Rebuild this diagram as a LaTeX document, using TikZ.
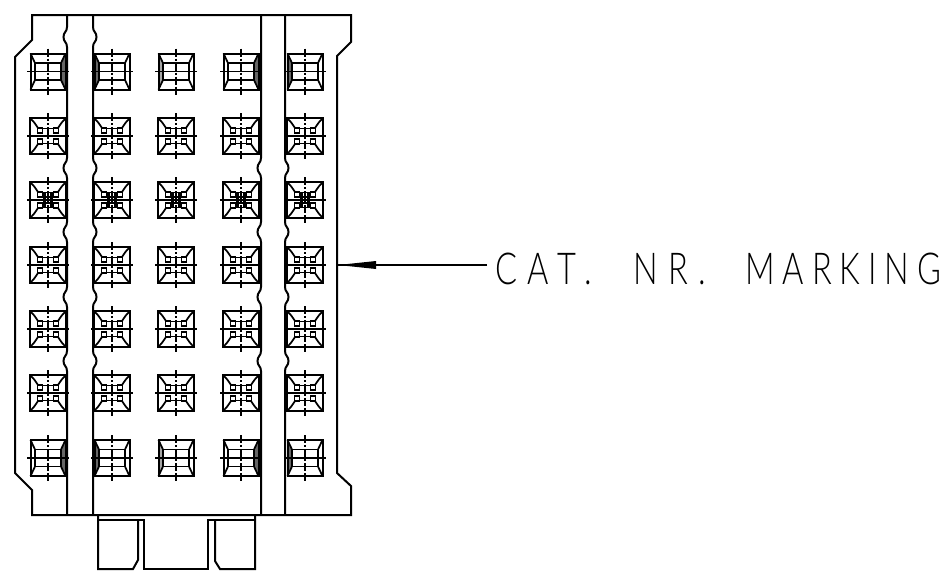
\documentclass[tikz,border=0pt]{standalone}
\usepackage{fontspec}
\newfontfamily\lab[UprightFont={* Light},LetterSpace=24,FakeStretch=0.74]{Lato}
\newfontfamily\labtight[UprightFont={* Light},LetterSpace=18,FakeStretch=0.74]{Lato}
\tikzset{
  body/.style={line width=1.5pt,line join=miter,black},
  pad line/.style={line width=1.3pt,black},
  centre/.style={line width=0.9pt,black,dash pattern=on 6pt off 1.5pt on 1.5pt off 1.5pt},
  lab text/.style={anchor=base west,inner sep=0pt,font=\lab\fontsize{33}{33}\selectfont,text=black},
  lab tight/.style={lab text,font=\labtight\fontsize{33}{33}\selectfont}
}
\newcommand{\crosslines}{%
  \draw[pad line] (-21,0) -- (21,0);
  \draw[centre] (0,-23) -- (0,23);
}
% #3, #4: colours of the left and right side strips
\newcommand{\padA}[4]{%
  \begin{scope}[shift={(#1,#2)}]
    \fill[#3] (-17.5,-18) -- (-13,-8) -- (-13,8) -- (-17.5,18) -- cycle;
    \fill[#4] (17.5,-18) -- (13,-8) -- (13,8) -- (17.5,18) -- cycle;
    \draw[body] (-17.5,-18) rectangle (17.5,18);
    \draw[pad line] (-13,-8.5) -- (13,-8.5) (-13,8.5) -- (13,8.5);
    \draw[pad line] (-17.5,-18) .. controls (-15,-14) .. (-13,-8.5) -- (-13,8.5) .. controls (-15,14) .. (-17.5,18);
    \draw[pad line] (17.5,-18) .. controls (15,-14) .. (13,-8.5) -- (13,8.5) .. controls (15,14) .. (17.5,18);
    \crosslines
  \end{scope}}
\newcommand{\padB}[3]{%
  \begin{scope}[shift={(#1,#2)}]
    \draw[body] (-18,-18) rectangle (18,18);
    \draw[pad line] (-18,-18) .. controls (-14,-14) .. (-10,-8);
    \draw[pad line] (18,-18) .. controls (14,-14) .. (10,-8);
    \draw[pad line] (-18,18) .. controls (-14,14) .. (-10,8);
    \draw[pad line] (18,18) .. controls (14,14) .. (10,8);
    \draw[pad line] (-7,-7.5) -- (7,-7.5) (-7,7.5) -- (7,7.5);
    \foreach \sx in {-8,8}\foreach \sy in {-5.5,5.5}
      \draw[pad line,fill=white] (\sx-2.6,\sy-2.6) rectangle (\sx+2.6,\sy+2.6);
    #3
    \crosslines
  \end{scope}}
\newcommand{\padcol}[3]{%
    \padA{#1}{71.5}{#2}{#3}
    \padB{#1}{136}{}
    \padB{#1}{200}{\draw[pad line,line width=1.7pt] (-18,-18) rectangle (18,18) (-7,-3) -- (7,-3) (-7,3) -- (7,3) (-3.5,-8) -- (-3.5,8) (3.5,-8) -- (3.5,8);}
    \padB{#1}{265}{}
    \padB{#1}{329}{}
    \padB{#1}{393}{}
    \padA{#1}{458}{#2}{#3}
}
\begin{document}
\begin{tikzpicture}[x=0.75pt,y=-0.75pt]
  \useasboundingbox (0,0) rectangle (946,572);
  % body outline
  \draw[body] (32,15) -- (351,15) -- (351,42) -- (337,56) -- (337,473) -- (351,486) -- (351,515)
     -- (32,515) -- (32,490) -- (15,473) -- (15,57) -- (32,40) -- cycle;
  % wavy bands
  \draw[body] (67,15) \foreach \y in {37,168,232,297,361}{ -- (67,\y-10) .. controls (67,\y-5) and (63.5,\y-5) .. (63.5,\y) .. controls (63.5,\y+5) and (67,\y+5) .. (67,\y+10) } -- (67,515);
  \draw[body] (93,15) \foreach \y in {37,168,232,297,361}{ -- (93,\y-10) .. controls (93,\y-5) and (96.5,\y-5) .. (96.5,\y) .. controls (96.5,\y+5) and (93,\y+5) .. (93,\y+10) } -- (93,515);
  \draw[body] (261,15) \foreach \y in {168,232,297,361}{ -- (261,\y-10) .. controls (261,\y-5) and (257.5,\y-5) .. (257.5,\y) .. controls (257.5,\y+5) and (261,\y+5) .. (261,\y+10) } -- (261,515);
  \draw[body] (285,15) \foreach \y in {168,232,297,361}{ -- (285,\y-10) .. controls (285,\y-5) and (288.5,\y-5) .. (288.5,\y) .. controls (288.5,\y+5) and (285,\y+5) .. (285,\y+10) } -- (285,515);
  % pads
  \padcol{48}{white}{black!60}
  \padcol{112}{black!60}{white}
  \padcol{176}{black!35}{white}
  \padcol{241}{white}{black!60}
  \padcol{305}{black!60}{white}
  % bottom tabs
  \draw[body] (98,515) -- (98,569) -- (133,569) -- (138,560) -- (138,519.5);
  \draw[body] (98,519.5) -- (144,519.5) -- (144,569) -- (208,569) -- (208,519.5) -- (255,519.5);
  \draw[body] (215,519.5) -- (215,561) -- (220,569) -- (255,569) -- (255,515);
  % leader
  \coordinate (tip) at (338,265);
  \coordinate (base) at (376,265);
  \coordinate (lineend) at (487,265);
  \fill[black] (tip) -- (376,261) -- (base) -- (376,269) -- cycle;
  \draw[pad line,line width=1pt] (lineend) -- (tip);
  \node[lab text] (a) at (495,284) {CAT.};
  \node[lab text] (b) at (633,284) {NR.};
  \node[lab tight] (c) at (745,284) {MARKING};
\end{tikzpicture}
\end{document}
